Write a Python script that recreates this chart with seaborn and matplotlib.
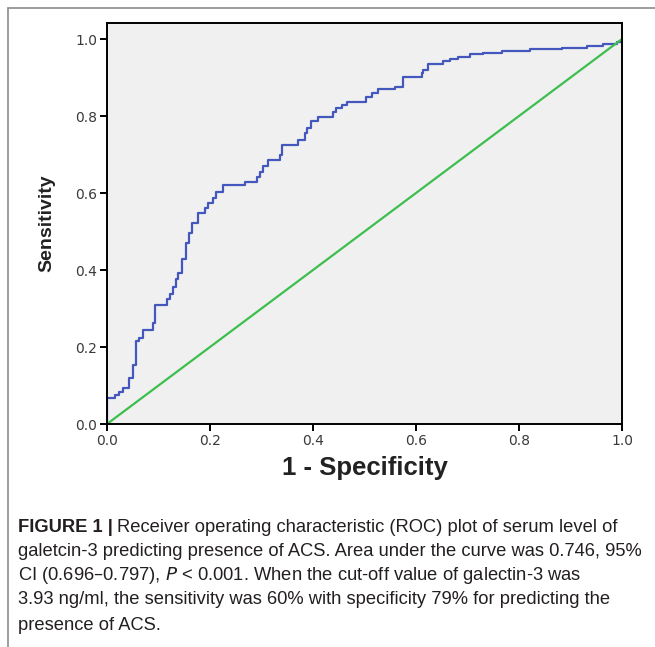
import matplotlib
matplotlib.use("Agg")
import matplotlib.pyplot as plt
import seaborn as sns
from matplotlib.lines import Line2D

# ROC curve corners (1 - specificity, sensitivity)
fpr = [0.0, 0.0, 0.0155, 0.0239, 0.0311, 0.0433, 0.0499, 0.0563, 0.0627, 0.0693,
       0.0887, 0.0932, 0.1159, 0.1223, 0.1287, 0.1340, 0.1384, 0.1450, 0.1528, 0.1598,
       0.1645, 0.1773, 0.1903, 0.1967, 0.2064, 0.2117, 0.2258, 0.2680, 0.2907, 0.2971,
       0.3035, 0.3120, 0.3359, 0.3392, 0.3715, 0.3845, 0.3893, 0.3955, 0.4103, 0.4398,
       0.4456, 0.4563, 0.4654, 0.5029, 0.5140, 0.5268, 0.5592, 0.5742, 0.6111, 0.6142,
       0.6239, 0.6530, 0.6660, 0.6821, 0.7049, 0.7307, 0.7664, 0.8214, 0.8829, 0.9315,
       0.9637, 0.9897, 1.0]
tpr = [0.0, 0.0683, 0.0753, 0.0839, 0.0943, 0.1187, 0.1532, 0.2164, 0.2226, 0.2442,
       0.2616, 0.3091, 0.3239, 0.3377, 0.3566, 0.3758, 0.3914, 0.4278, 0.4694, 0.4953,
       0.5229, 0.5473, 0.5603, 0.5732, 0.5862, 0.6034, 0.6208, 0.6294, 0.6423, 0.6553,
       0.6701, 0.6857, 0.6987, 0.7247, 0.7377, 0.7551, 0.7681, 0.7878, 0.7966, 0.8104,
       0.8200, 0.8286, 0.8371, 0.8501, 0.8605, 0.8694, 0.8761, 0.9021, 0.9109, 0.9195,
       0.9351, 0.9436, 0.9473, 0.9540, 0.9610, 0.9644, 0.9696, 0.9732, 0.9758, 0.9818,
       0.9870, 0.9930, 1.0]

ref_x = [0.0, 1.0]
ref_y = [0.0, 1.0]

ticks = [0.0, 0.2, 0.4, 0.6, 0.8, 1.0]
tick_labels = ["0.0", "0.2", "0.4", "0.6", "0.8", "1.0"]

caption_head = "FIGURE 1 |"
caption = [
    "Receiver operating characteristic (ROC) plot of serum level of",
    "galetcin-3 predicting presence of ACS. Area under the curve was 0.746, 95%",
    "CI (0.696\u20130.797), $\\it{P}$ < 0.001. When the cut-off value of galectin-3 was",
    "3.93 ng/ml, the sensitivity was 60% with specificity 79% for predicting the",
    "presence of ACS.",
]

sns.set_style("ticks", {"axes.facecolor": "#f0f0f0", "axes.edgecolor": "black"})

fig = plt.figure(figsize=(6.55, 6.47), dpi=100)
ax = fig.add_axes([107 / 655, 1 - 424 / 647, 515 / 655, 401 / 647])

sns.lineplot(x=fpr, y=tpr, sort=False, estimator=None, drawstyle="steps-post",
             color="#4357bd", linewidth=1.6, ax=ax)
sns.lineplot(x=ref_x, y=ref_y, sort=False, estimator=None,
             color="#3cbf4c", linewidth=1.6, ax=ax)

ax.set_xlim(0, 1)
ax.set_ylim(0, 1.0416)
ax.set_xticks(ticks)
ax.set_xticklabels(tick_labels)
ax.set_yticks(ticks)
ax.set_yticklabels(tick_labels)
for s in ax.spines.values():
    s.set_linewidth(1.4)
    s.set_visible(True)
ax.tick_params(direction="out", length=5, width=1.4, colors="black",
               labelcolor="#3a3a3a", labelsize=10, pad=2)
for lab in ax.get_xticklabels() + ax.get_yticklabels():
    lab.set_family("DejaVu Sans")

ax.set_xlabel("1 - Specificity", fontsize=18.5, fontweight="bold",
              family="Liberation Sans", color="#222222", labelpad=6)
ax.set_ylabel("Sensitivity", fontsize=14, fontweight="bold",
              family="Liberation Sans", color="#222222", labelpad=14)

# outer frame lines (top and left)
fig.add_artist(Line2D([7.5 / 655, 1.0], [1 - 7.5 / 647, 1 - 7.5 / 647],
                      color="#8c8c8c", linewidth=1.2, transform=fig.transFigure))
fig.add_artist(Line2D([7.5 / 655, 7.5 / 655], [1 - 7.5 / 647, 0.0],
                      color="#8c8c8c", linewidth=1.2, transform=fig.transFigure))

# caption: size chosen so the widest line spans the same width as in the figure
cap_font = "Liberation Sans"
line_y = [527, 552, 576, 600, 625]
renderer = fig.canvas.get_renderer()
probe = fig.text(0, 0, caption[1], fontsize=14, family=cap_font)
w = probe.get_window_extent(renderer).width
probe.remove()
fs = 14 * 627 / w

head = fig.text(18 / 655, 1 - line_y[0] / 647, caption_head, fontsize=fs, fontweight="bold",
                family=cap_font, color="#231f20", va="center", ha="left")
hw = head.get_window_extent(renderer).width
fig.text((18 + hw + 4) / 655, 1 - line_y[0] / 647, caption[0], fontsize=fs,
         family=cap_font, color="#231f20", va="center", ha="left")
for txt, yy in zip(caption[1:], line_y[1:]):
    fig.text(18 / 655, 1 - yy / 647, txt, fontsize=fs, family=cap_font,
             color="#231f20", va="center", ha="left")

fig.savefig("out.png", dpi=100)
